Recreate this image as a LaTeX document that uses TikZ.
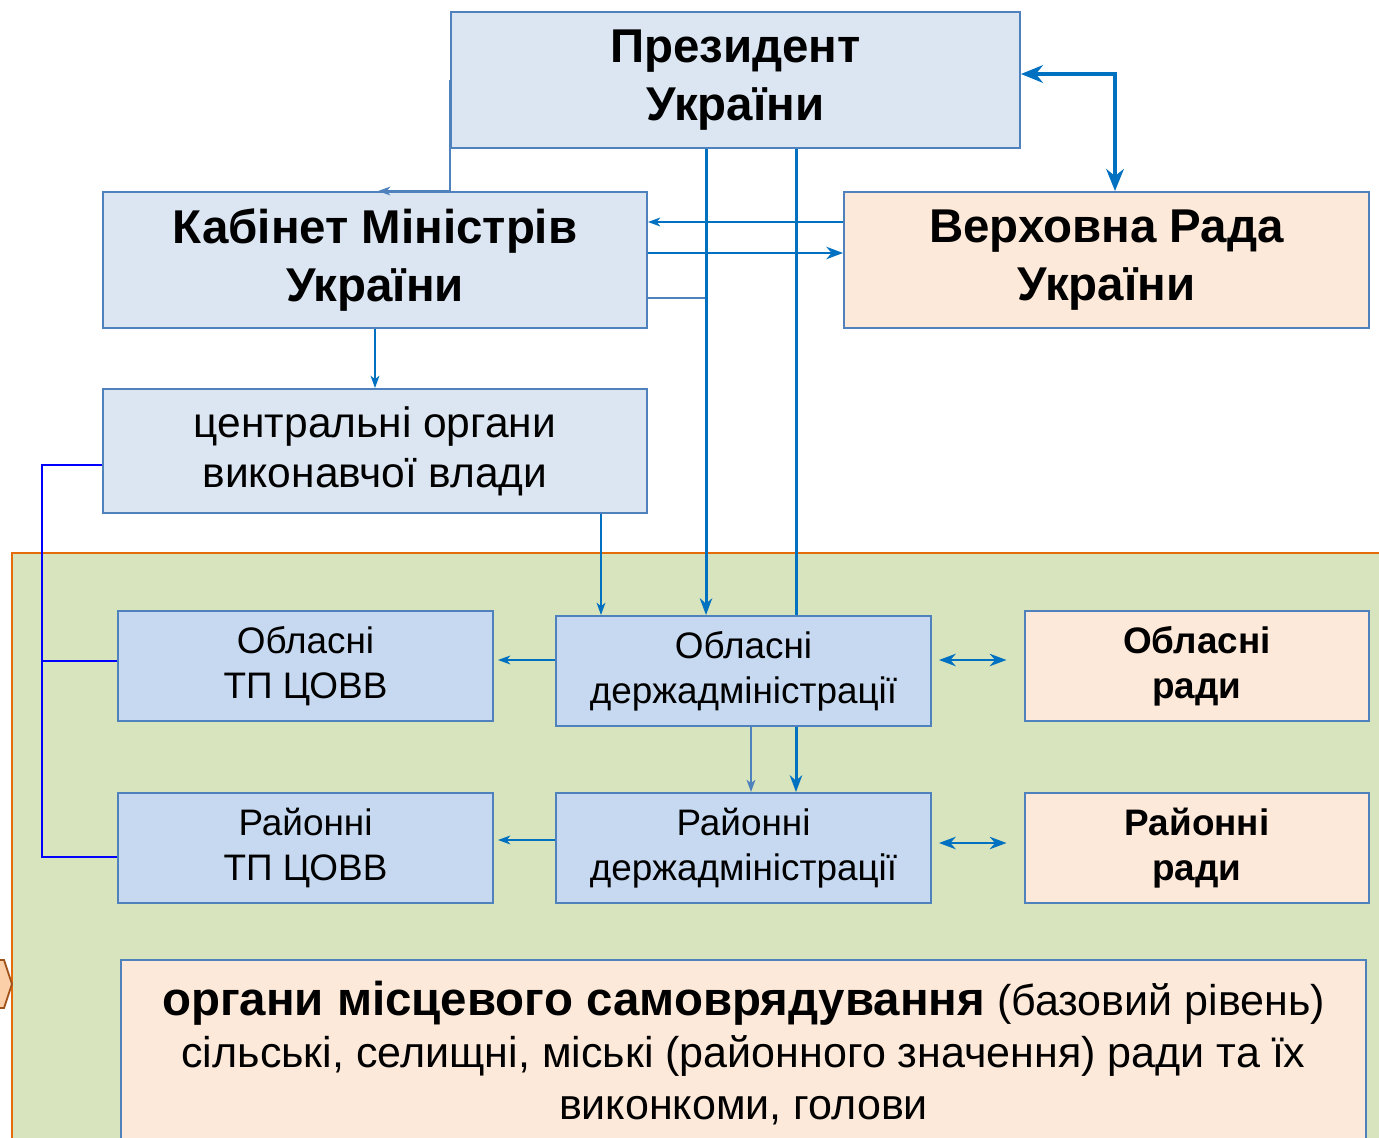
\documentclass[tikz,border=0pt]{standalone}
\usepackage{fontspec}
\setmainfont{Liberation Sans}
\usetikzlibrary{arrows.meta,calc}
\definecolor{topblue}{HTML}{DCE6F2}
\definecolor{lowblue}{HTML}{C6D9F1}
\definecolor{peach}{HTML}{FDE9D9}
\definecolor{bordblue}{HTML}{4F81BD}
\definecolor{greenbg}{HTML}{D7E4BD}
\definecolor{orangeb}{HTML}{E46C0A}
\definecolor{arrblue}{HTML}{0070C0}
\definecolor{hexfill}{HTML}{FBD0A8}
\definecolor{hexbord}{HTML}{A0521A}
\tikzset{
  box/.style={draw=bordblue, line width=1.1pt, align=center, inner sep=0pt, text=black},
  tbox/.style={box, fill=topblue},
  lbox/.style={box, fill=lowblue},
  pbox/.style={box, fill=peach},
  ttl/.style={font=\fontsize{27}{32.6}\selectfont\bfseries},
  cen/.style={font=\fontsize{24.2}{28.4}\selectfont},
  sml/.style={font=\fontsize{21}{25.5}\selectfont},
  smlb/.style={font=\fontsize{21}{25.5}\selectfont\bfseries},
  bigtip/.style={-{Stealth[length=12.5pt,width=10pt,inset=4pt]}},
  midtip/.style={-{Stealth[length=9.5pt,width=7pt,inset=3pt]}},
  smalltip/.style={-{Stealth[length=7pt,width=5pt,inset=2pt]}},
  dbltip/.style={{Stealth[length=9.5pt,width=7pt,inset=3pt]}-{Stealth[length=9.5pt,width=7pt,inset=3pt]}},
  heavy/.style={draw=arrblue, line width=2.1pt},
  medium/.style={draw=arrblue, line width=1.7pt},
  thin/.style={draw=arrblue, line width=1.1pt},
  light/.style={draw=bordblue, line width=1.1pt},
  brk/.style={draw=blue, line width=1.2pt},
}
\begin{document}
\begin{tikzpicture}[x=0.02cm,y=-0.02cm]
\clip (0,0) rectangle (1379,1138);
\fill[white] (0,0) rectangle (1379,1138);
% green region
\path[fill=greenbg, draw=orangeb, line width=1.3pt] (12,553) rectangle (1400,1160);
% hexagon at left
\path[fill=hexfill, draw=hexbord, line width=1pt] (-40,960) -- (4,960) -- (12,984) -- (4,1008) -- (-40,1008) -- cycle;

% boxes
\node[tbox, ttl, minimum width=11.38cm, minimum height=2.72cm] (pres) at (735.5,80) {Президент\\України};
\node[tbox, ttl, minimum width=10.88cm, minimum height=2.72cm] (cab) at (375,260) {Кабінет Міністрів\\України};
\node[pbox, ttl, minimum width=10.5cm, minimum height=2.72cm] (rada) at (1106.5,260) {Верховна Рада\\України};
\node[tbox, cen, minimum width=10.88cm, minimum height=2.48cm] (cen) at (375,451) {центральні органи\\виконавчої влади};
\node[lbox, sml, minimum width=7.5cm, minimum height=2.2cm] (otp) at (305.5,666) {Обласні\\ТП ЦОВВ};
\node[lbox, sml, minimum width=7.5cm, minimum height=2.2cm] (od) at (743.5,671) {Обласні\\держадміністрації};
\node[pbox, smlb, minimum width=6.88cm, minimum height=2.2cm] (orady) at (1197,666) {Обласні\\ради};
\node[lbox, sml, minimum width=7.5cm, minimum height=2.2cm] (rtp) at (305.5,848) {Районні\\ТП ЦОВВ};
\node[lbox, sml, minimum width=7.5cm, minimum height=2.2cm] (rd) at (743.5,848) {Районні\\держадміністрації};
\node[pbox, smlb, minimum width=6.88cm, minimum height=2.2cm] (rrady) at (1197,848) {Районні\\ради};
\node[pbox, font=\fontsize{24.5}{29.8}\selectfont, minimum width=24.9cm, minimum height=3.72cm] (oms) at (743.5,1053)
  {{\fontsize{27}{29.8}\selectfont\bfseries органи місцевого самоврядування} (базовий рівень)\\сільські, селищні, міські (районного значення) ради та їх\\виконкоми, голови};

% helper coordinates
\coordinate (x706) at (706,0);
\coordinate (x796) at (796,0);
\coordinate (x601) at (601,0);
\coordinate (x751) at (751,0);
\coordinate (y222) at (0,222);
\coordinate (y253) at (0,253);
\coordinate (y298) at (0,298);
\coordinate (y660) at (0,660);
\coordinate (y840) at (0,840);
\coordinate (y843) at (0,843);
\coordinate (br) at (42,0);
\coordinate (corner) at (1115,74);

% President -> Cabinet (left side)
\draw[light, smalltip] (pres.west) -- (pres.west |- cab.north) -- ($(cab.north)+(3,0)$);
% Rada <-> Cabinet
\draw[thin, smalltip] (rada.west |- y222) -- (cab.east |- y222);
\draw[medium, midtip] (cab.east |- y253) -- (rada.west |- y253);
\draw[light] (cab.east |- y298) -- (x706 |- y298);
% corner arrows
\draw[heavy, bigtip] ($(corner)+(-2,0)$) -- (pres.east |- corner);
\draw[heavy, bigtip] ($(corner)+(0,-2)$) -- (rada.north -| corner);
% Cabinet -> central
\draw[thin, smalltip] (cab.south) -- (cen.north);
% verticals to oblasni
\draw[medium, midtip] (pres.south -| x706) -- (od.north -| x706);
\draw[medium] (pres.south -| x796) -- (od.north -| x796);
\draw[thin, smalltip] (cen.south -| x601) -- (od.north -| x601);
% oblasni -> raionni
\draw[light, smalltip] (od.south -| x751) -- (rd.north -| x751);
\draw[medium, midtip] (od.south -| x796) -- (rd.north -| x796);
% derzh -> TP
\draw[thin, smalltip] (od.west |- y660) -- ($(otp.east |- y660)+(4,0)$);
\draw[thin, smalltip] (rd.west |- y840) -- ($(rtp.east |- y840)+(4,0)$);
% derzh <-> rady
\draw[medium, dbltip, shorten <=4pt, shorten >=10pt] (od.east |- y660) -- (orady.west |- y660);
\draw[medium, dbltip, shorten <=4pt, shorten >=10pt] (rd.east |- y843) -- (rrady.west |- y843);
% bracket
\draw[brk] ($(cen.west)+(0,14)$) -- ($(cen.west -| br)+(0,14)$) -- ($(rtp.west -| br)+(0,9)$) -- ($(rtp.west)+(0,9)$);
\draw[brk] ($(otp.west -| br)+(0,-5)$) -- ($(otp.west)+(0,-5)$);
\end{tikzpicture}
\end{document}
